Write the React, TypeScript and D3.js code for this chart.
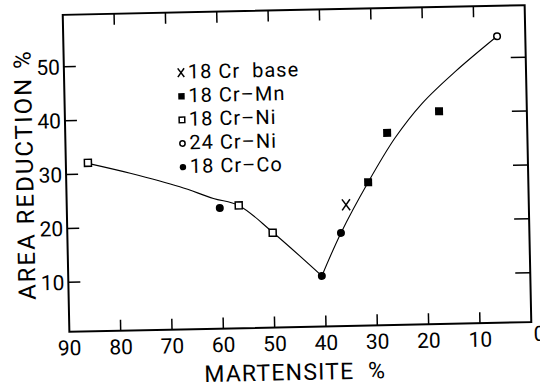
import React from 'react';
import * as d3 from 'd3';

// ---- data ----
const xTickLabels = [90, 80, 70, 60, 50, 40, 30, 20, 10];
const xTickMarks = [80, 70, 60, 50, 40, 30, 20, 10];
const yTicks = [10, 20, 30, 40, 50];

const cr18Base = [[35.6, 23.3]];
const cr18Mn = [[31.2, 27.4], [27.3, 36.5], [17.1, 40.3]];
const cr18Ni = [[85.7, 32.1], [56.5, 23.6], [50.0, 18.4]];
const cr24Ni = [[5.5, 54.0]];
const cr18Co = [[60.2, 23.2], [40.6, 10.2], [36.7, 18.1]];

// fitted curve
const fitLeft = [[85.7, 32.0], [77.5, 30.0], [67.9, 27.3], [61.4, 25.0], [56.5, 23.6], [50.0, 18.5], [40.6, 10.2]];
const fitRight = [[40.6, 10.2], [36.7, 18.1], [31.2, 27.4], [25.8, 35.5], [20.4, 41.8], [13.8, 47.6], [5.5, 54.0]];

const legendLabels = ['18 Cr  base', '18 Cr–Mn', '18 Cr–Ni', '24 Cr–Ni', '18 Cr–Co'];
const legendKinds = ['x', 'fsq', 'osq', 'oci', 'fci'];

const series = [
  { kind: 'x', data: cr18Base },
  { kind: 'fsq', data: cr18Mn },
  { kind: 'osq', data: cr18Ni },
  { kind: 'oci', data: cr24Ni },
  { kind: 'fci', data: cr18Co },
];

const W = 540;
const H = 389;
const L = 66, R = 528, T = 10, B = 327;
const FONT = "Roboto, 'DejaVu Sans', sans-serif";

function Marker({ kind, cx, cy, s = 1 }: { kind: string; cx: number; cy: number; s?: number }) {
  if (kind === 'x') {
    const w = 4 * s, h = 5.5 * s;
    return (
      <g stroke="#000" strokeWidth={1.5}>
        <line x1={cx - w} y1={cy - h} x2={cx + w} y2={cy + h} />
        <line x1={cx + w} y1={cy - h} x2={cx - w} y2={cy + h} />
      </g>
    );
  }
  if (kind === 'fsq') {
    const a = 8 * s;
    return <rect x={cx - a / 2} y={cy - a / 2} width={a} height={a} fill="#000" />;
  }
  if (kind === 'osq') {
    const a = 7 * s;
    return <rect x={cx - a / 2} y={cy - a / 2} width={a} height={a} fill="#fff" stroke="#000" strokeWidth={1.5} />;
  }
  if (kind === 'oci') {
    return <circle cx={cx} cy={cy} r={3.3 * s} fill="#fff" stroke="#000" strokeWidth={1.5} />;
  }
  return <circle cx={cx} cy={cy} r={4 * s} fill="#000" />;
}

export default function App() {
  const x = d3.scaleLinear().domain([90, 0]).range([L, R]);
  const y = d3.scaleLinear().domain([0.81, 59.65]).range([B, T]);
  const line = d3
    .line<number[]>()
    .x((d) => x(d[0]))
    .y((d) => y(d[1]))
    .curve(d3.curveCatmullRom.alpha(0.5));

  const legendX = 183;
  const legendY0 = 69.3;
  const legendDy = 23.6;

  return (
    <svg
      width={W}
      height={H}
      style={{ position: 'absolute', left: 0, top: 0, background: '#fff' }}
      fontFamily={FONT}
    >
      <rect x={0} y={0} width={W} height={H} fill="#fff" />
      <g transform="rotate(-1.2, 297, 168)">
        {/* frame */}
        <rect x={L} y={T} width={R - L} height={B - T} fill="none" stroke="#000" strokeWidth={2} />

        {/* x ticks top & bottom */}
        {xTickMarks.map((v) => (
          <g key={'xt' + v} stroke="#000" strokeWidth={1.5}>
            <line x1={x(v)} x2={x(v)} y1={B} y2={B - 11} />
            <line x1={x(v)} x2={x(v)} y1={T} y2={T + 11} />
          </g>
        ))}
        {/* y ticks left & right */}
        {yTicks.map((v) => (
          <g key={'yt' + v} stroke="#000" strokeWidth={1.5}>
            <line x1={L} x2={L + 12} y1={y(v)} y2={y(v)} />
            <line x1={R} x2={R - 15} y1={y(v)} y2={y(v)} />
          </g>
        ))}

        {/* tick labels */}
        {xTickLabels.map((v) => (
          <text key={'xl' + v} x={x(v)} y={350.5} fontSize={21} textAnchor="middle" fill="#000">
            {v}
          </text>
        ))}
        <text x={536} y={346} fontSize={21} textAnchor="middle" fill="#000">0</text>
        {yTicks.map((v) => (
          <text key={'yl' + v} x={62} y={y(v) + 7.5} fontSize={21} textAnchor="end" fill="#000">
            {v}
          </text>
        ))}

        {/* axis titles */}
        <text
          transform="translate(33,169) rotate(-90)"
          fontSize={24}
          letterSpacing={2}
          textAnchor="middle"
          fill="#000"
          style={{ whiteSpace: 'pre' }}
        >
          AREA REDUCTION %
        </text>
        <text x={291} y={380} fontSize={23} letterSpacing={1.2} textAnchor="middle" fill="#000" style={{ whiteSpace: 'pre' }}>
          MARTENSITE  %
        </text>

        {/* fitted curve */}
        <path d={line(fitLeft) || ''} fill="none" stroke="#000" strokeWidth={1.1} />
        <path d={line(fitRight) || ''} fill="none" stroke="#000" strokeWidth={1.1} />

        {/* data markers */}
        {series.map((s) =>
          s.data.map((d, i) => <Marker key={s.kind + i} kind={s.kind} cx={x(d[0])} cy={y(d[1])} />)
        )}

        {/* legend */}
        {legendLabels.map((lab, i) => {
          const cy = legendY0 + i * legendDy;
          return (
            <g key={'lg' + i}>
              <Marker kind={legendKinds[i]} cx={legendX} cy={cy + 1} s={0.8} />
              <text
                x={legendX + 7}
                y={cy + 7}
                fontSize={20}
                letterSpacing={1}
                fill="#000"
                style={{ whiteSpace: 'pre' }}
              >
                {lab}
              </text>
            </g>
          );
        })}
      </g>
    </svg>
  );
}
